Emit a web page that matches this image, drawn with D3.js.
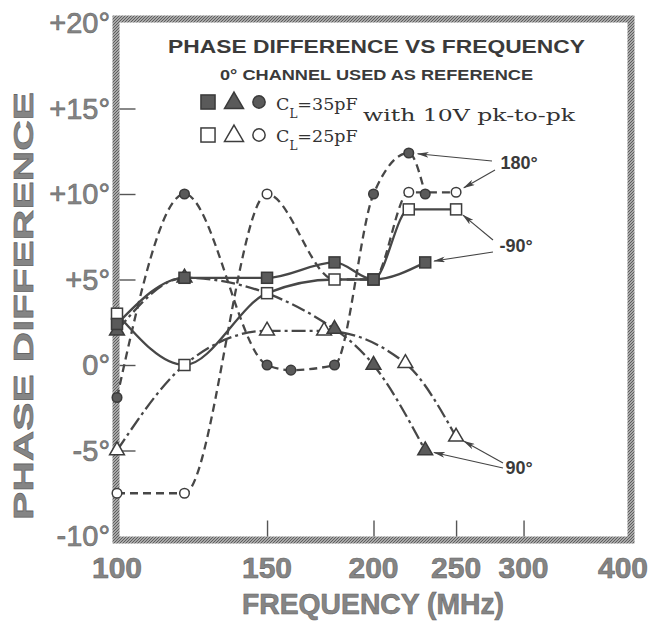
<!DOCTYPE html>
<html><head><meta charset="utf-8">
<script src="https://cdn.jsdelivr.net/npm/d3@7"></script>
<style>body{margin:0;background:#fff}svg{display:block}</style>
</head><body><svg id="c" width="654" height="622"></svg>
<script>
// ---- data ----
const xTicks = [100, 150, 200, 250, 300, 400];
const yTicks = [-10, -5, 0, 5, 10, 15, 20];
const yTickLabels = ["-10°", "-5°", "0°", "+5°", "+10°", "+15°", "+20°"];

// -90° channel (squares)
const sq35 = [[100, 2.4], [120, 5.1], [150, 5.1], [180, 6.0], [200, 5.0], [230, 6.0]];
const sq25 = [[100, 3.0], [120, 0.0], [150, 4.2], [180, 5.0], [200, 5.0], [220, 9.1], [250, 9.1]];
// 90° channel (triangles)
const tri35 = [[100, 2.0], [120, 5.1], [180, 2.1], [200, 0.0], [230, -5.0]];
const tri25 = [[100, -5.0], [120, 0.0], [150, 2.0], [175, 2.0], [218, 0.1], [250, -4.2]];
const tri25NoMarker = [120];
// 180° channel (circles)
const cir35 = [[100, -1.9], [120, 10.0], [150, 0.0], [160, -0.3], [180, 0.0], [200, 10.0], [220, 12.4], [230, 10.0]];
const cir25 = [[100, -7.5], [120, -7.5], [150, 10.0], [180, 5.0], [200, 5.0], [220, 10.1], [250, 10.1]];

// ---- scales ----
const svg = d3.select("#c");
const x = d3.scaleLog().domain([100, 400]).range([117, 630]);
const y = d3.scaleLinear().domain([-10, 20]).range([536, 23]);

const INK = "#474747", FILL = "#5a5a5a", GRAY = "#858585";

// hatch pattern for frame
const defs = svg.append("defs");
const pat = defs.append("pattern").attr("id", "hatch").attr("patternUnits", "userSpaceOnUse")
  .attr("width", 3).attr("height", 3);
pat.append("rect").attr("width", 3).attr("height", 3).attr("fill", "#a8a8a8");
pat.append("path").attr("d", "M0,3 L3,0").attr("stroke", "#5e5e5e").attr("stroke-width", 1);
defs.append("marker").attr("id", "arr").attr("viewBox", "0 0 12 6").attr("refX", 11).attr("refY", 3)
  .attr("markerWidth", 12).attr("markerHeight", 6).attr("markerUnits", "userSpaceOnUse").attr("orient", "auto")
  .append("path").attr("d", "M0,0 L12,3 L0,6 L3,3 Z").attr("fill", "#444");

// ---- frame ----
svg.append("rect").attr("x", 116).attr("y", 19).attr("width", 515).attr("height", 521)
  .attr("fill", "none").attr("stroke", "url(#hatch)").attr("stroke-width", 7);

// ---- axes (ticks inward) ----
const yAxis = d3.axisRight(y).tickValues(yTicks.filter(d => d > -10 && d < 20)).tickSize(16).tickFormat("");
const gy = svg.append("g").attr("transform", "translate(119.5,0)").call(yAxis);
gy.select(".domain").remove();
gy.selectAll(".tick line").attr("stroke", "#555").attr("stroke-width", 1.4);

const xAxis = d3.axisTop(x).tickValues(xTicks.filter(d => d > 100 && d < 400)).tickSize(16).tickFormat("");
const gx = svg.append("g").attr("transform", "translate(0,536.5)").call(xAxis);
gx.select(".domain").remove();
gx.selectAll(".tick line").attr("stroke", "#555").attr("stroke-width", 1.4);

// tick labels
const tickFont = "'Liberation Sans', Arial, sans-serif";
svg.append("g").selectAll("text").data(yTicks).join("text")
  .attr("x", 110).attr("y", d => y(d) + 10)
  .attr("text-anchor", "end").attr("font-family", tickFont).attr("font-size", 29)
  .attr("fill", GRAY).attr("stroke", "#666").attr("stroke-width", 0.6)
  .text((d, i) => yTickLabels[i]);

svg.append("g").selectAll("text").data(xTicks).join("text")
  .attr("x", d => d === 400 ? x(d) - 7 : x(d)).attr("y", 578)
  .attr("text-anchor", "middle").attr("font-family", tickFont).attr("font-size", 30).attr("font-weight", "bold")
  .attr("fill", GRAY).attr("stroke", "#666").attr("stroke-width", 0.6)
  .text(d => d);

// axis titles
svg.append("text").attr("x", 373).attr("y", 614).attr("text-anchor", "middle")
  .attr("font-family", tickFont).attr("font-size", 29).attr("font-weight", "bold")
  .attr("fill", GRAY).attr("stroke", "#666").attr("stroke-width", 0.6)
  .attr("textLength", 262).attr("lengthAdjust", "spacingAndGlyphs")
  .text("FREQUENCY (MHz)");
svg.append("text").attr("transform", "translate(33,306) rotate(-90)").attr("text-anchor", "middle")
  .attr("font-family", tickFont).attr("font-size", 28).attr("font-weight", "bold")
  .attr("fill", GRAY).attr("stroke", "#666").attr("stroke-width", 0.6)
  .attr("textLength", 428).attr("lengthAdjust", "spacingAndGlyphs")
  .text("PHASE DIFFERENCE");

// chart title & subtitle
svg.append("text").attr("x", 168).attr("y", 53)
  .attr("font-family", tickFont).attr("font-size", 19).attr("font-weight", "bold").attr("fill", "#3a3a3a")
  .attr("textLength", 417).attr("lengthAdjust", "spacingAndGlyphs")
  .text("PHASE DIFFERENCE VS FREQUENCY");
svg.append("text").attr("x", 220).attr("y", 80)
  .attr("font-family", tickFont).attr("font-size", 14.5).attr("font-weight", "bold").attr("fill", "#3a3a3a")
  .attr("textLength", 313).attr("lengthAdjust", "spacingAndGlyphs")
  .text("0° CHANNEL USED AS REFERENCE");

// ---- series ----
const line = d3.line().x(d => x(d[0])).y(d => y(d[1])).curve(d3.curveMonotoneX);
const series = [
  { data: cir25, dash: "8,5", shape: "circle", filled: false },
  { data: cir35, dash: "8,5", shape: "circle", filled: true },
  { data: tri25, dash: "14,4,3,4", shape: "triangle", filled: false, skip: tri25NoMarker },
  { data: tri35, dash: "14,4,3,4", shape: "triangle", filled: true },
  { data: sq25, dash: null, shape: "square", filled: false },
  { data: sq35, dash: null, shape: "square", filled: true }
];
series.forEach(s => {
  svg.append("path").attr("d", line(s.data)).attr("fill", "none")
    .attr("stroke", INK).attr("stroke-width", 2.3)
    .attr("stroke-dasharray", s.dash);
});

function drawMarker(g, shape, filled, cx, cy, scale) {
  const k = scale || 1;
  let el;
  if (shape === "square") {
    const s = 11 * k;
    el = g.append("rect").attr("x", cx - s / 2).attr("y", cy - s / 2).attr("width", s).attr("height", s);
  } else if (shape === "triangle") {
    el = g.append("path").attr("transform", `translate(${cx},${cy})`)
      .attr("d", d3.symbol().type(d3.symbolTriangle).size(95 * k * k)());
  } else {
    el = g.append("circle").attr("cx", cx).attr("cy", cy).attr("r", 4.8 * k);
  }
  el.attr("fill", filled ? FILL : "#fff").attr("stroke", filled ? "#3a3a3a" : "#3d3d3d").attr("stroke-width", 1.5);
}

series.forEach(s => {
  const g = svg.append("g");
  s.data.forEach(d => {
    if (s.skip && s.skip.includes(d[0])) return;
    drawMarker(g, s.shape, s.filled, x(d[0]), y(d[1]));
  });
});

// ---- legend ----
const lg = svg.append("g");
[["square", 208], ["triangle", 234], ["circle", 259]].forEach(([sh, cx]) => {
  drawMarker(lg, sh, true, cx, sh === "triangle" ? 103 : 102, 1.28);
  drawMarker(lg, sh, false, cx, sh === "triangle" ? 136 : 135, 1.28);
});
const legFont = "'DejaVu Serif', 'Liberation Serif', serif";
function capLabel(yb, val) {
  const t = lg.append("text").attr("x", 276).attr("y", yb)
    .attr("font-family", legFont).attr("font-size", 17.5).attr("fill", "#333");
  t.append("tspan").text("C");
  t.append("tspan").attr("dy", 8).attr("font-size", 12).text("L");
  t.append("tspan").attr("dy", -8).text("=" + val);
}
capLabel(110, "35pF");
capLabel(142, "25pF");
lg.append("text").attr("x", 363).attr("y", 121)
  .attr("font-family", legFont).attr("font-size", 17).attr("fill", "#333")
  .attr("textLength", 212).attr("lengthAdjust", "spacingAndGlyphs")
  .text("with 10V pk-to-pk");

// ---- annotations ----
const notes = [
  { label: "180°", lx: 519, ly: 169, arrows: [{ from: [492, 161], to: cir35[6] }, { from: [495, 170], to: cir25[6] }] },
  { label: "-90°", lx: 516, ly: 252, arrows: [{ from: [493, 240], to: sq25[6] }, { from: [493, 252], to: sq35[5] }] },
  { label: "90°", lx: 519, ly: 474, arrows: [{ from: [503, 463], to: tri25[5] }, { from: [503, 468], to: tri35[4] }] }
];
const ag = svg.append("g");
notes.forEach(n => {
  ag.append("text").attr("x", n.lx).attr("y", n.ly).attr("text-anchor", "middle")
    .attr("font-family", tickFont).attr("font-size", 18).attr("font-weight", "bold").attr("fill", "#3a3a3a")
    .text(n.label);
  n.arrows.forEach(a => {
    const tx = x(a.to[0]), ty = y(a.to[1]);
    const dx = a.from[0] - tx, dy = a.from[1] - ty, L = Math.hypot(dx, dy);
    const hx = tx + dx / L * 9, hy = ty + dy / L * 9;
    ag.append("line").attr("x1", a.from[0]).attr("y1", a.from[1]).attr("x2", hx).attr("y2", hy)
      .attr("stroke", "#444").attr("stroke-width", 1.1).attr("marker-end", "url(#arr)");
  });
});
</script></body></html>
